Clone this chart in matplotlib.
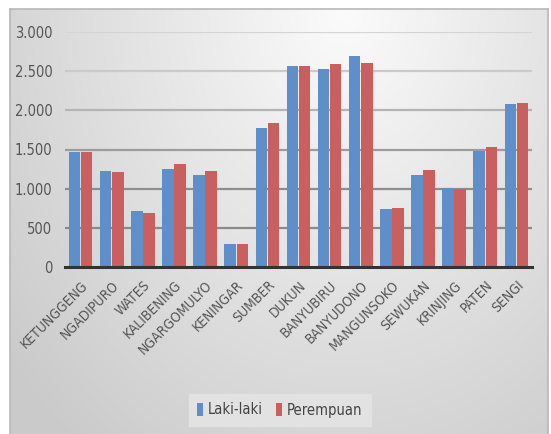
import numpy as np
import matplotlib
matplotlib.use("Agg")
import matplotlib.pyplot as plt
from matplotlib import rcParams

rcParams["font.family"] = ["DejaVu Sans"]
rcParams["font.stretch"] = "condensed"

desa = ["KETUNGGENG", "NGADIPURO", "WATES", "KALIBENING", "NGARGOMULYO", "KENINGAR",
        "SUMBER", "DUKUN", "BANYUBIRU", "BANYUDONO", "MANGUNSOKO", "SEWUKAN",
        "KRINJING", "PATEN", "SENGI"]
laki = [1472, 1231, 720, 1257, 1172, 290, 1773, 2565, 2531, 2689, 741, 1172, 1010, 1483, 2075]
perempuan = [1462, 1210, 695, 1317, 1231, 290, 1832, 2565, 2591, 2608, 754, 1244, 997, 1538, 2088]
yticks = [0, 500, 1000, 1500, 2000, 2500, 3000]
ytick_labels = ["0", "500", "1.000", "1.500", "2.000", "2.500", "3.000"]

W, H = 551, 434
fig = plt.figure(figsize=(W / 100, H / 100), dpi=100)
fig.patch.set_facecolor("white")

# latar belakang gradasi abu-abu
bg = fig.add_axes([10 / W, 0, (548 - 10) / W, (434 - 9) / H])
ny, nx = 200, 300
yy, xx = np.mgrid[0:ny, 0:nx]
d = np.sqrt(((xx / nx - 0.62) / 0.8) ** 2 + ((yy / ny - 0.0) / 1.3) ** 2)
val = 0.985 - 0.19 * np.clip(d, 0, 1.0)
img = np.dstack([val, val, val])
bg.imshow(img, aspect="auto", extent=[0, 1, 0, 1], origin="upper")
bg.set_xlim(0, 1)
bg.set_ylim(0, 1)
bg.set_xticks([])
bg.set_yticks([])
bg.spines["bottom"].set_visible(False)
for s in ["top", "left", "right"]:
    bg.spines[s].set_color("#b8b8b8")
    bg.spines[s].set_linewidth(1.2)

ax = fig.add_axes([65 / W, 1 - 267 / H, (532 - 65) / W, (267 - 32) / H])
ax.patch.set_alpha(0)
x = np.arange(len(desa))
w = 0.37
ax.bar(x - w / 2 - 0.01, laki, w, color="#5e8fcb", label="Laki-laki", zorder=3)
ax.bar(x + w / 2 + 0.01, perempuan, w, color="#c9605f", label="Perempuan", zorder=3)

# garis grid: makin ke atas makin pudar
grid_warna = ["#8a8a8a", "#8e8e8e", "#9c9c9c", "#b4b4b4", "#cacaca", "#d4d4d4"]
for yv, c in zip(yticks[1:], grid_warna):
    ax.axhline(yv, color=c, lw=1.6, zorder=1)

ax.set_xlim(-0.5, len(desa) - 0.5)
ax.set_ylim(0, 3000)
ax.set_yticks(yticks)
ax.set_yticklabels(ytick_labels, fontsize=10.5, color="#555555")
ax.set_xticks(x)
ax.set_xticklabels(desa, rotation=45, ha="right", rotation_mode="anchor",
                   fontsize=10, color="#555555")
ax.tick_params(length=0, pad=9)
ax.tick_params(axis="x", pad=8)
for s in ["top", "right", "left"]:
    ax.spines[s].set_visible(False)
ax.spines["bottom"].set_color("#333333")
ax.spines["bottom"].set_linewidth(2.2)
ax.spines["bottom"].set_zorder(4)

leg = fig.legend(loc="center", bbox_to_anchor=(280 / W, 1 - 410 / H), ncol=2,
                 fontsize=10.5, frameon=True, fancybox=False, handlelength=0.4,
                 handleheight=0.95, handletextpad=0.35, columnspacing=0.9,
                 borderpad=0.55, borderaxespad=0)
leg.get_frame().set_facecolor("#e2e2e2")
leg.get_frame().set_edgecolor("#e2e2e2")
leg.get_frame().set_alpha(1)
for t in leg.get_texts():
    t.set_color("#444444")

plt.savefig("out.png", dpi=100)
plt.close()
